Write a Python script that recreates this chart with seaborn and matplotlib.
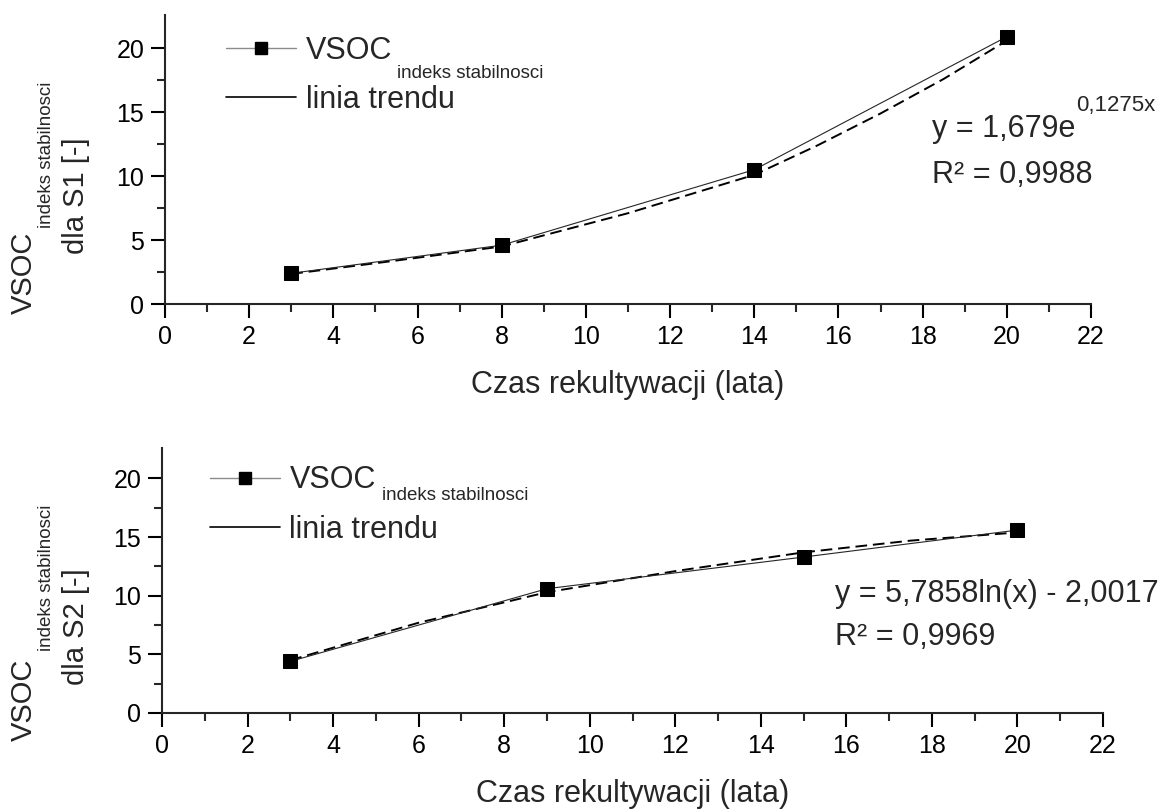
import numpy as np
import pandas as pd
import seaborn as sns
import matplotlib
matplotlib.use("Agg")
import matplotlib.pyplot as plt
from matplotlib.lines import Line2D

# ---------------- data ----------------
years_s1 = [3, 8, 14, 20]
vsoc_s1 = [2.4, 4.6, 10.5, 20.9]
years_s2 = [3, 9, 15, 20]
vsoc_s2 = [4.4, 10.6, 13.3, 15.6]

# dashed trend lines
trend_x_s1 = [3, 5.5, 8, 11, 14, 15.5, 17, 18.5, 20]
trend_y_s1 = [2.35, 3.4, 4.5, 7.1, 10.1, 12.4, 14.9, 17.6, 20.6]
trend_x_s2 = [3, 6, 9, 12, 15, 17.5, 20]
trend_y_s2 = [4.5, 7.7, 10.3, 12.1, 13.7, 14.7, 15.4]

x_ticks = [0, 2, 4, 6, 8, 10, 12, 14, 16, 18, 20, 22]
x_minor = [1, 3, 5, 7, 9, 11, 13, 15, 17, 19, 21]
y_ticks = [0, 5, 10, 15, 20]
y_minor = [2.5, 7.5, 12.5, 17.5]

eq_s1 = ("y = 1,679e", "0,1275x", "R\u00b2 = 0,9988")
eq_s2 = ("y = 5,7858ln(x) - 2,0017", "R\u00b2 = 0,9969")
xlabel = "Czas rekultywacji (lata)"
legend_main = "VSOC"
legend_sub = "indeks stabilnosci"
legend_trend = "linia trendu"
ylab_s1 = "dla S1 [-]"
ylab_s2 = "dla S2 [-]"

# ---------------- style ----------------
sns.set_style("ticks")
plt.rcParams["font.family"] = ["Liberation Sans", "DejaVu Sans"]
plt.rcParams["axes.linewidth"] = 1.5

W, H = 1172, 811
fig = plt.figure(figsize=(W / 100, H / 100), dpi=100)

def px_axes(left, right, top, bottom):
    return fig.add_axes([left / W, 1 - bottom / H, (right - left) / W, (bottom - top) / H])

ax1 = px_axes(165, 1091, 15, 304)
ax2 = px_axes(162, 1103, 448, 713)

BIG = 22
YLAB = 21
TICK = 18
SUB = 13.5


def draw_panel(ax, xs, ys, trend_x, trend_y):
    sns.lineplot(x=trend_x, y=trend_y, ax=ax, color="k", lw=1.4,
                 linestyle=(0, (6, 3)), errorbar=None, legend=False)
    sns.lineplot(x=xs, y=ys, ax=ax, color="0.15", lw=0.8, marker="s",
                 markersize=10, markerfacecolor="k", markeredgecolor="k",
                 errorbar=None, legend=False)
    ax.set_xlim(0, 22)
    ax.set_ylim(0, 22.6)
    ax.set_xticks(x_ticks)
    ax.set_xticks(x_minor, minor=True)
    ax.set_yticks(y_ticks)
    ax.set_yticks(y_minor, minor=True)
    ax.tick_params(which="major", direction="out", length=10, width=1.5,
                   labelsize=TICK, pad=5, colors="k")
    ax.tick_params(which="minor", direction="out", length=5.5, width=1.5)
    sns.despine(ax=ax)
    ax.set_xlabel(xlabel, fontsize=BIG, labelpad=15)
    ax.set_ylabel("")


def add_legend(ax, anchor, sub_pos):
    handles = [
        Line2D([0], [0], color="0.55", lw=1, marker="s", markersize=9,
               markerfacecolor="k", markeredgecolor="k"),
        Line2D([0], [0], color="k", lw=1.2),
    ]
    ax.legend(handles, [legend_main, legend_trend], loc="upper left",
              bbox_to_anchor=anchor, frameon=False, fontsize=BIG,
              handlelength=2.3, handletextpad=0.3, labelspacing=0.64,
              borderpad=0, borderaxespad=0)
    ax.text(sub_pos[0], sub_pos[1], legend_sub, transform=ax.transAxes,
            fontsize=SUB, va="baseline", ha="left")


# panel 1
draw_panel(ax1, years_s1, vsoc_s1, trend_x_s1, trend_y_s1)
add_legend(ax1, (0.066, 0.929), (0.2505, 0.782))
t = ax1.text(0.828, 0.578, eq_s1[0], transform=ax1.transAxes, fontsize=BIG, va="baseline")
ax1.annotate(eq_s1[1], xy=(1, 0), xycoords=t, xytext=(0.5, 24), textcoords="offset points",
             fontsize=16, va="baseline", ha="left")
ax1.text(0.828, 0.419, eq_s1[2], transform=ax1.transAxes, fontsize=BIG, va="baseline")

# panel 2
draw_panel(ax2, years_s2, vsoc_s2, trend_x_s2, trend_y_s2)
add_legend(ax2, (0.051, 0.934), (0.2338, 0.804))
ax2.text(0.715, 0.419, eq_s2[0], transform=ax2.transAxes, fontsize=BIG, va="baseline")
ax2.text(0.715, 0.257, eq_s2[1], transform=ax2.transAxes, fontsize=BIG, va="baseline")

# y-axis labels (composite, rotated)
def ylabel_block(vsoc_y, sub_y, dla_y, dla_text):
    fig.text(24 / W, 1 - vsoc_y / H, legend_main, rotation=90, ha="center", va="center", fontsize=YLAB)
    fig.text(47 / W, 1 - sub_y / H, legend_sub, rotation=90, ha="center", va="center", fontsize=SUB)
    fig.text(76 / W, 1 - dla_y / H, dla_text, rotation=90, ha="center", va="center", fontsize=YLAB)

ylabel_block(273, 155, 196, ylab_s1)
ylabel_block(700, 578, 627, ylab_s2)

fig.savefig("out.png", dpi=100, facecolor="white")
